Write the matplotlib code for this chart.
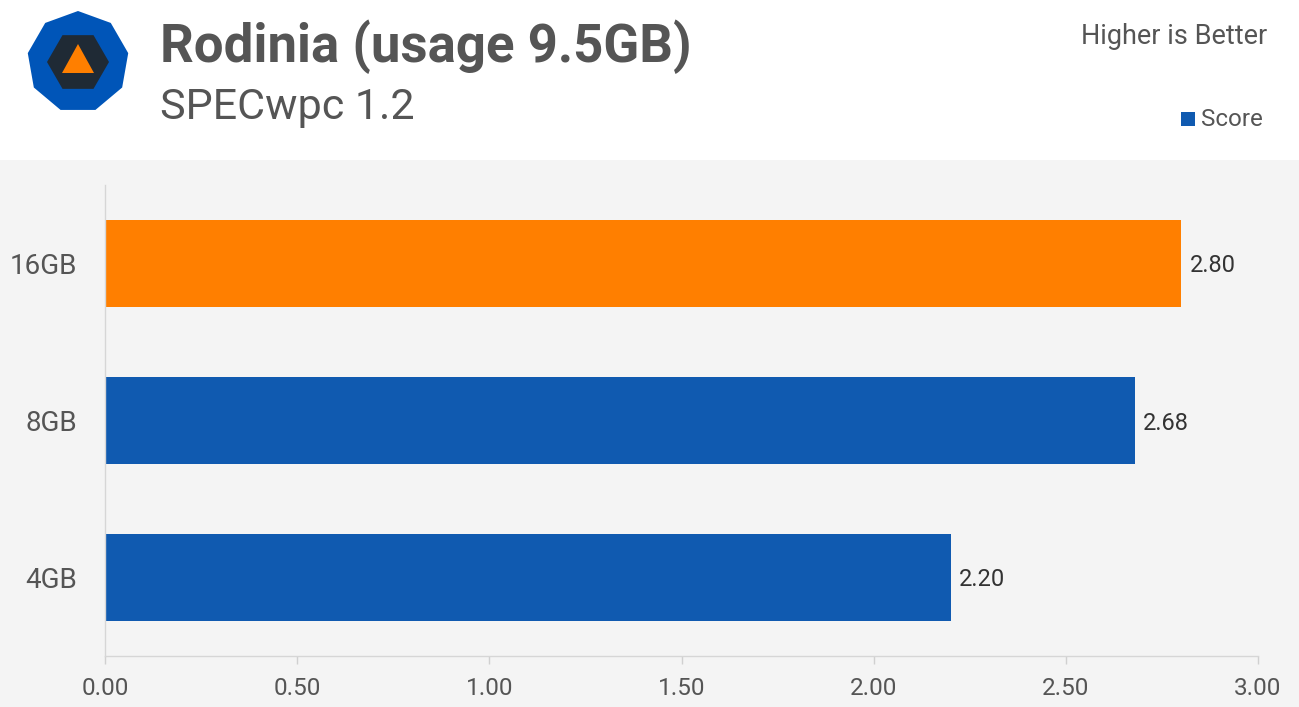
import matplotlib
matplotlib.use("Agg")
import matplotlib.pyplot as plt
from matplotlib.patches import Polygon, Rectangle, RegularPolygon
import numpy as np

categories = ["16GB", "8GB", "4GB"]
scores = [2.80, 2.68, 2.20]
bar_colors = ["#ff7f00", "#105ab0", "#105ab0"]
xticks = [0.0, 0.5, 1.0, 1.5, 2.0, 2.5, 3.0]
title = "Rodinia (usage 9.5GB)"
subtitle = "SPECwpc 1.2"

plt.rcParams['font.family'] = ['Roboto', 'DejaVu Sans']

W, H = 1299, 707
fig = plt.figure(figsize=(W / 100, H / 100), dpi=100)
fig.patch.set_facecolor("#f4f4f4")

def fx(px):
    return px / W

def fy(py):
    return 1 - py / H

# white header
fig.patches.append(Rectangle((0, fy(160)), 1, 160 / H, transform=fig.transFigure,
                             facecolor="white", edgecolor="none", zorder=-5))

# main axes
ax = fig.add_axes([fx(105), fy(656), fx(1258) - fx(105), fy(185) - fy(656)])
ax.set_facecolor("#f4f4f4")
ypos = np.arange(len(categories))
ax.barh(ypos, scores, height=0.554, color=bar_colors, zorder=2)
ax.set_ylim(len(categories) - 0.5, -0.5)
ax.set_xlim(0, 3.0)
ax.set_yticks(ypos)
ax.set_yticklabels(categories, fontsize=20, color="#555555")
ax.set_xticks(xticks)
ax.set_xticklabels([f"{v:.2f}" for v in xticks], fontsize=17.5, color="#555555")
ax.tick_params(axis="y", length=0, pad=20)
ax.tick_params(axis="x", length=6, color="#d0d0d0", width=1, pad=9)
for s in ["top", "right"]:
    ax.spines[s].set_visible(False)
for s in ["left", "bottom"]:
    ax.spines[s].set_color("#d6d6d6")
    ax.spines[s].set_linewidth(1)
for y, v in zip(ypos, scores):
    ax.annotate(f"{v:.2f}", (v, y), xytext=(6, 0), textcoords="offset points",
                va="center_baseline", ha="left", fontsize=17, color="#333333")

# titles
fig.text(fx(160), fy(62), title, fontsize=38, fontweight="bold", color="#555555",
         ha="left", va="baseline")
fig.text(fx(160), fy(119), subtitle, fontsize=31, color="#555555",
         ha="left", va="baseline")
fig.text(fx(1267), fy(44), "Higher is Better", fontsize=19.5, color="#555555",
         ha="right", va="baseline")
fig.text(fx(1263), fy(126), "Score", fontsize=17.4, color="#555555",
         ha="right", va="baseline")
fig.patches.append(Rectangle((fx(1181), fy(126)), 14 / W, 14 / H, transform=fig.transFigure,
                             facecolor="#105ab0", edgecolor="none"))

# logo
lax = fig.add_axes([fx(20), fy(120), 116 / W, 116 / H])
lax.set_xlim(-58, 58)
lax.set_ylim(-58, 58)
lax.set_aspect("equal")
lax.axis("off")
lax.add_patch(RegularPolygon((0, 0), numVertices=9, radius=51, orientation=0,
                             facecolor="#0055b8", edgecolor="none"))
lax.add_patch(RegularPolygon((0, 0), numVertices=6, radius=31, orientation=np.pi / 6,
                             facecolor="#1f2a35", edgecolor="none"))
lax.add_patch(Polygon([(0, 18), (-16, -11), (16, -11)], closed=True,
                      facecolor="#ff7f00", edgecolor="none"))

fig.savefig("out.png", dpi=100, facecolor=fig.get_facecolor())
